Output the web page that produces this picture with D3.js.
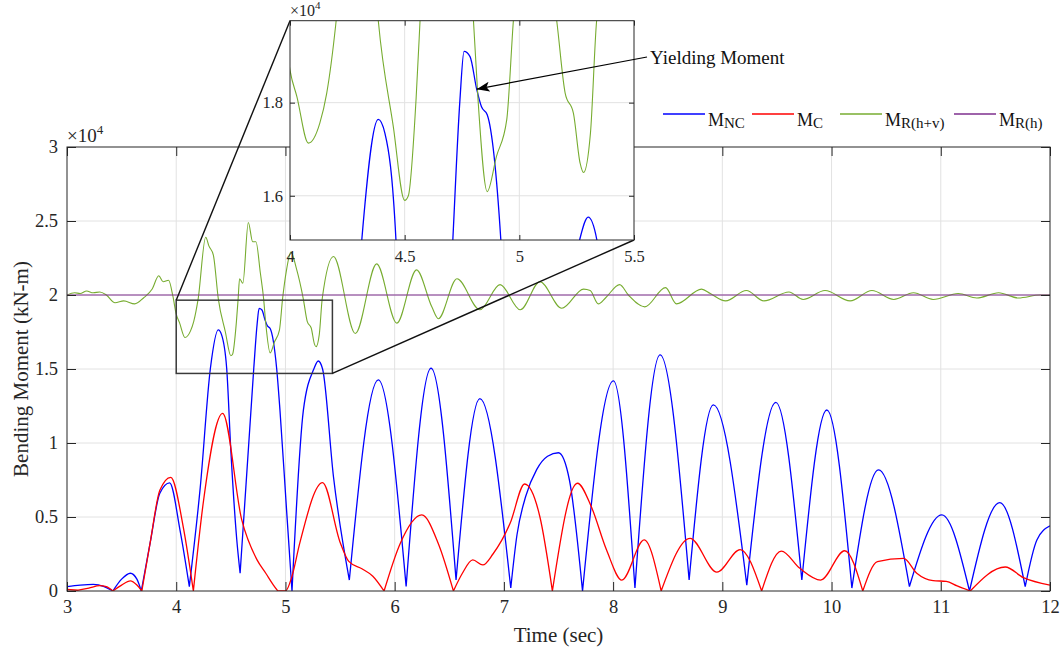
<!DOCTYPE html>
<html>
<head>
<meta charset="utf-8">
<script src="https://cdn.jsdelivr.net/npm/d3@7"></script>
<style>
body{margin:0;background:#fff;}
text{font-family:"Liberation Serif","Times New Roman",serif;}
</style>
</head>
<body>
<div id="chart"></div>
<script>
// Bending moment time histories, values in units of 1e4 kN-m

var xTicks = [3,4,5,6,7,8,9,10,11,12];
var yTicks = [0,0.5,1,1.5,2,2.5,3];
var insetXTicks = [4,4.5,5,5.5];
var insetYTicks = [1.6,1.8];
var legendSubs = ["NC","C","R(h+v)","R(h)"];
var colors = ["#0000ff","#ff0000","#77ac30","#7e2f8e"];

// [time (sec), moment]
var mNC = [[3.00,0.03],[3.12,0.04],[3.24,0.045],[3.34,0.03],[3.42,0],[3.50,0.08],[3.58,0.12],[3.64,0.08],[3.68,0],
  [3.76,0.32],[3.85,0.66],[3.94,0.73],[4.035,0.41],[4.12,0.03],[4.22,0.7],[4.313,1.505],[4.385,1.764],[4.414,1.734],
  [4.462,1.505],[4.50,0.95],[4.554,0.35],[4.585,0.12],[4.71,1.505],[4.741,1.806],[4.759,1.91],[4.785,1.899],[4.814,1.829],
  [4.835,1.791],[4.86,1.774],[4.92,1.5],[4.95,1.22],[5.01,0.55],[5.06,0],[5.164,1.22],[5.26,1.50],[5.30,1.554],[5.34,1.50],
  [5.44,0.77],[5.585,0.074],[5.85,1.426],[6.105,0.03],[6.333,1.505],[6.562,0.074],[6.78,1.30],[7.063,0.02],[7.12,0.38],
  [7.20,0.64],[7.30,0.82],[7.40,0.91],[7.50,0.934],[7.60,0.75],[7.72,0],[8.003,1.42],[8.20,0.02],[8.43,1.595],[8.696,0.074],
  [8.918,1.257],[9.224,0.04],[9.49,1.275],[9.728,0.074],[9.957,1.223],[10.186,0.02],[10.43,0.818],[10.713,0.03],
  [11.01,0.514],[11.263,0],[11.54,0.597],[11.773,0.03],[11.88,0.345],[12.00,0.44]];

var mC = [[3.00,0.01],[3.10,0.005],[3.20,0.02],[3.30,0.036],[3.36,0.03],[3.42,0],[3.50,0.04],[3.58,0.068],[3.64,0.04],
  [3.685,0],[3.76,0.32],[3.85,0.68],[3.95,0.768],[4.065,0.43],[4.157,0],[4.25,0.61],[4.425,1.20],[4.60,0.48],[4.74,0.21],
  [4.82,0.12],[4.89,0.04],[4.93,0],[5.00,0],[5.06,0.1],[5.13,0.32],[5.34,0.732],[5.50,0.33],[5.58,0.2],[5.70,0.15],
  [5.80,0.10],[5.903,0],[6.05,0.32],[6.248,0.514],[6.40,0.32],[6.538,0],[6.62,0.12],[6.715,0.21],[6.807,0.176],[6.90,0.25],
  [7.057,0.457],[7.19,0.723],[7.33,0.50],[7.444,0],[7.673,0.728],[7.80,0.57],[7.94,0.277],[8.08,0.074],[8.284,0.345],
  [8.44,0],[8.705,0.356],[8.95,0.127],[9.163,0.28],[9.36,0],[9.54,0.27],[9.71,0.153],[9.90,0.074],[10.12,0.272],
  [10.286,0],[10.42,0.198],[10.66,0.22],[10.78,0.12],[10.93,0.07],[11.05,0.065],[11.15,0.034],[11.27,0],[11.59,0.162],
  [11.757,0.09],[12.00,0.04]];

var mRhv = [[3.00,2.00],[3.07,2.015],[3.12,2.01],[3.18,2.027],[3.24,2.015],[3.30,2.02],[3.36,2.00],[3.44,1.948],[3.52,1.96],
  [3.62,1.94],[3.70,1.98],[3.78,2.04],[3.84,2.13],[3.88,2.09],[3.93,2.10],[3.97,1.99],[4.00,1.87],[4.03,1.813],[4.08,1.713],
  [4.13,1.756],[4.16,1.82],[4.20,1.97],[4.27,2.39],[4.30,2.33],[4.34,2.27],[4.385,1.976],[4.45,1.75],[4.50,1.59],[4.516,1.60],
  [4.55,1.81],[4.567,1.976],[4.58,2.11],[4.61,2.08],[4.66,2.49],[4.70,2.36],[4.73,2.36],[4.77,2.15],[4.80,1.976],[4.82,1.806],
  [4.86,1.609],[4.90,1.684],[4.945,1.763],[4.974,1.976],[5.01,2.17],[5.05,2.29],[5.10,2.18],[5.163,1.976],[5.20,1.82],
  [5.236,1.777],[5.265,1.67],[5.28,1.65],[5.31,1.734],[5.337,1.976],[5.44,2.26],[5.64,1.74],[5.835,2.21],[6.02,1.81],
  [6.20,2.17],[6.34,1.92],[6.40,1.84],[6.57,2.11],[6.78,1.90],[6.965,2.07],[7.15,1.90],[7.33,2.09],[7.53,1.91],[7.73,2.04],
  [7.79,2.03],[7.865,1.94],[7.93,1.98],[8.06,2.07],[8.14,2.00],[8.29,1.92],[8.48,2.05],[8.58,1.94],[8.81,2.04],[8.89,2.01],
  [9.03,1.96],[9.22,2.03],[9.38,1.96],[9.61,2.02],[9.74,1.97],[9.94,2.03],[10.17,1.96],[10.37,2.03],[10.57,1.97],
  [10.75,2.015],[10.93,1.97],[11.16,2.01],[11.33,1.98],[11.53,2.015],[11.71,1.98],[11.91,2.00],[12.00,2.00]];

var mRh = [[3,2],[12,2]];

var zoomBox = [[4,1.47],[5.43,1.965]];
var insetXDomain = [4,5.5];
var insetYDomain = [1.505,1.976];
var yieldPoint = [4.814,1.829];

var width = 1064, height = 652;
var plot = {left:67, right:1050, top:147, bottom:591};
var ins = {left:290, right:634, top:20.7, bottom:240};

var x = d3.scaleLinear().domain([3,12]).range([plot.left, plot.right]);
var y = d3.scaleLinear().domain([0,3]).range([plot.bottom, plot.top]);
var xi = d3.scaleLinear().domain(insetXDomain).range([ins.left, ins.right]);
var yi = d3.scaleLinear().domain(insetYDomain).range([ins.bottom, ins.top]);

var svg = d3.select("#chart").append("svg")
    .attr("width", width)
    .attr("height", height);

var defs = svg.append("defs");
defs.append("clipPath").attr("id","clipMain").append("rect")
    .attr("x",plot.left).attr("y",plot.top)
    .attr("width",plot.right-plot.left).attr("height",plot.bottom-plot.top);
defs.append("clipPath").attr("id","clipInset").append("rect")
    .attr("x",ins.left).attr("y",ins.top)
    .attr("width",ins.right-ins.left).attr("height",ins.bottom-ins.top);
defs.append("marker").attr("id","arrow")
    .attr("markerUnits","userSpaceOnUse")
    .attr("markerWidth",14).attr("markerHeight",12)
    .attr("refX",13).attr("refY",5)
    .attr("orient","auto")
  .append("path").attr("d","M0,0 L13,5 L0,10 L3,5 Z").attr("fill","#000");

// split at sharp minima so the |M| dips stay pointed
function curvePath(pts, sx, sy, sharpBelow){
  var segs = [], cur = [pts[0]];
  for (var i=1;i<pts.length;i++){
    cur.push(pts[i]);
    if (i<pts.length-1 && pts[i][1]<=sharpBelow && pts[i][1]<pts[i-1][1] && pts[i][1]<=pts[i+1][1]){
      segs.push(cur); cur=[pts[i]];
    }
  }
  segs.push(cur);
  var line = d3.line().x(function(d){return sx(d[0]);}).y(function(d){return sy(d[1]);}).curve(d3.curveMonotoneX);
  return segs.map(function(s){return line(s);}).join("");
}

var series = [
  {data:mNC, color:colors[0], w:1.3, sharp:0.2},
  {data:mC, color:colors[1], w:1.3, sharp:0.02},
  {data:mRhv, color:colors[2], w:1.1, sharp:-1},
  {data:mRh, color:colors[3], w:1, sharp:-1}
];

var gridColor = "#e2e2e2", axisColor = "#262626";

// main grid
var grid = svg.append("g");
grid.selectAll(".gx").data(xTicks.slice(1,-1)).enter().append("line")
    .attr("x1",function(d){return x(d);}).attr("x2",function(d){return x(d);})
    .attr("y1",plot.top).attr("y2",plot.bottom)
    .attr("stroke",gridColor);
grid.selectAll(".gy").data(yTicks.slice(1,-1)).enter().append("line")
    .attr("y1",function(d){return y(d);}).attr("y2",function(d){return y(d);})
    .attr("x1",plot.left).attr("x2",plot.right)
    .attr("stroke",gridColor);

// main curves
var lines = svg.append("g").attr("clip-path","url(#clipMain)");
series.forEach(function(s){
  lines.append("path")
    .attr("d",curvePath(s.data,x,y,s.sharp))
    .attr("fill","none").attr("stroke",s.color).attr("stroke-width",s.w);
});

// main axes
function styleAxis(g, size){
  g.select(".domain").remove();
  g.selectAll("line").attr("stroke",axisColor);
  g.selectAll("text").attr("fill",axisColor).style("font-size",size)
    .style("font-family",'"Liberation Serif","Times New Roman",serif');
}
var fmt = function(d){return String(d);};
svg.append("g").attr("transform","translate(0,"+plot.bottom+")")
  .call(d3.axisBottom(x).tickValues(xTicks).tickSize(-9).tickPadding(9).tickFormat(fmt))
  .call(styleAxis,"18.5px");
svg.append("g").attr("transform","translate(0,"+plot.top+")")
  .call(d3.axisTop(x).tickValues(xTicks).tickSize(-9).tickFormat(""))
  .call(styleAxis,"18.5px");
svg.append("g").attr("transform","translate("+plot.left+",0)")
  .call(d3.axisLeft(y).tickValues(yTicks).tickSize(-9).tickPadding(9).tickFormat(fmt))
  .call(styleAxis,"18.5px");
svg.append("g").attr("transform","translate("+plot.right+",0)")
  .call(d3.axisRight(y).tickValues(yTicks).tickSize(-9).tickFormat(""))
  .call(styleAxis,"18.5px");
svg.append("rect")
    .attr("x",plot.left).attr("y",plot.top)
    .attr("width",plot.right-plot.left).attr("height",plot.bottom-plot.top)
    .attr("fill","none").attr("stroke",axisColor).attr("stroke-width",1);

var exp1 = svg.append("text").attr("x",plot.left).attr("y",142)
    .attr("fill",axisColor).style("font-size","19px").text("\u00d710");
exp1.append("tspan").attr("dy",-8).style("font-size","13px").text("4");

// axis titles
svg.append("text")
    .attr("x",(plot.left+plot.right)/2).attr("y",642)
    .attr("text-anchor","middle").attr("fill",axisColor)
    .style("font-size","21px").text("Time (sec)");
svg.append("text")
    .attr("transform","translate(28,"+((plot.top+plot.bottom)/2)+") rotate(-90)")
    .attr("text-anchor","middle").attr("fill",axisColor)
    .style("font-size","21px").text("Bending Moment (kN-m)");

// zoom box and connectors
svg.append("rect")
    .attr("x",x(zoomBox[0][0])).attr("y",y(zoomBox[1][1]))
    .attr("width",x(zoomBox[1][0])-x(zoomBox[0][0]))
    .attr("height",y(zoomBox[0][1])-y(zoomBox[1][1]))
    .attr("fill","none").attr("stroke","#3a3a3a").attr("stroke-width",1.5);
svg.append("line")
    .attr("x1",x(zoomBox[0][0])).attr("y1",y(zoomBox[1][1]))
    .attr("x2",ins.left).attr("y2",ins.top)
    .attr("stroke","#111").attr("stroke-width",1.4);
svg.append("line")
    .attr("x1",x(zoomBox[1][0])).attr("y1",y(zoomBox[0][1]))
    .attr("x2",ins.right).attr("y2",ins.bottom)
    .attr("stroke","#111").attr("stroke-width",1.4);

// inset
var inset = svg.append("g");
inset.append("rect")
    .attr("x",ins.left).attr("y",ins.top)
    .attr("width",ins.right-ins.left).attr("height",ins.bottom-ins.top)
    .attr("fill","#fff");
inset.selectAll(".igx").data(insetXTicks.slice(1,-1)).enter().append("line")
    .attr("x1",function(d){return xi(d);}).attr("x2",function(d){return xi(d);})
    .attr("y1",ins.top).attr("y2",ins.bottom).attr("stroke",gridColor);
inset.selectAll(".igy").data(insetYTicks).enter().append("line")
    .attr("y1",function(d){return yi(d);}).attr("y2",function(d){return yi(d);})
    .attr("x1",ins.left).attr("x2",ins.right).attr("stroke",gridColor);
var ilines = inset.append("g").attr("clip-path","url(#clipInset)");
series.forEach(function(s){
  ilines.append("path")
    .attr("d",curvePath(s.data,xi,yi,s.sharp))
    .attr("fill","none").attr("stroke",s.color).attr("stroke-width",s.w);
});
inset.append("g").attr("transform","translate(0,"+ins.bottom+")")
  .call(d3.axisBottom(xi).tickValues(insetXTicks).tickSize(-5).tickPadding(10).tickFormat(fmt))
  .call(styleAxis,"16.5px");
inset.append("g").attr("transform","translate(0,"+ins.top+")")
  .call(d3.axisTop(xi).tickValues(insetXTicks).tickSize(-5).tickFormat(""))
  .call(styleAxis,"16.5px");
inset.append("g").attr("transform","translate("+ins.left+",0)")
  .call(d3.axisLeft(yi).tickValues(insetYTicks).tickSize(-5).tickPadding(7).tickFormat(fmt))
  .call(styleAxis,"16.5px");
inset.append("g").attr("transform","translate("+ins.right+",0)")
  .call(d3.axisRight(yi).tickValues(insetYTicks).tickSize(-5).tickFormat(""))
  .call(styleAxis,"16.5px");
inset.append("rect")
    .attr("x",ins.left).attr("y",ins.top)
    .attr("width",ins.right-ins.left).attr("height",ins.bottom-ins.top)
    .attr("fill","none").attr("stroke",axisColor).attr("stroke-width",1);
var exp2 = svg.append("text").attr("x",ins.left).attr("y",16)
    .attr("fill",axisColor).style("font-size","16px").text("\u00d710");
exp2.append("tspan").attr("dy",-7).style("font-size","11px").text("4");

// annotation
svg.append("line")
    .attr("x1",647).attr("y1",57)
    .attr("x2",xi(yieldPoint[0])).attr("y2",yi(yieldPoint[1]))
    .attr("stroke","#000").attr("stroke-width",1.2)
    .attr("marker-end","url(#arrow)");
svg.append("text").attr("x",650).attr("y",64)
    .attr("fill","#111").style("font-size","19px").text("Yielding Moment");

// legend
var legendX = [663,752,840,954];
var legend = svg.append("g");
legendSubs.forEach(function(sub,i){
  legend.append("line")
    .attr("x1",legendX[i]).attr("x2",legendX[i]+42)
    .attr("y1",114).attr("y2",114)
    .attr("stroke",colors[i]).attr("stroke-width",1.3);
  var t = legend.append("text").attr("x",legendX[i]+45).attr("y",126)
    .attr("fill","#111").style("font-size","18px").text("M");
  t.append("tspan").attr("dy",2).style("font-size","15px").text(sub);
});
</script>
</body>
</html>
